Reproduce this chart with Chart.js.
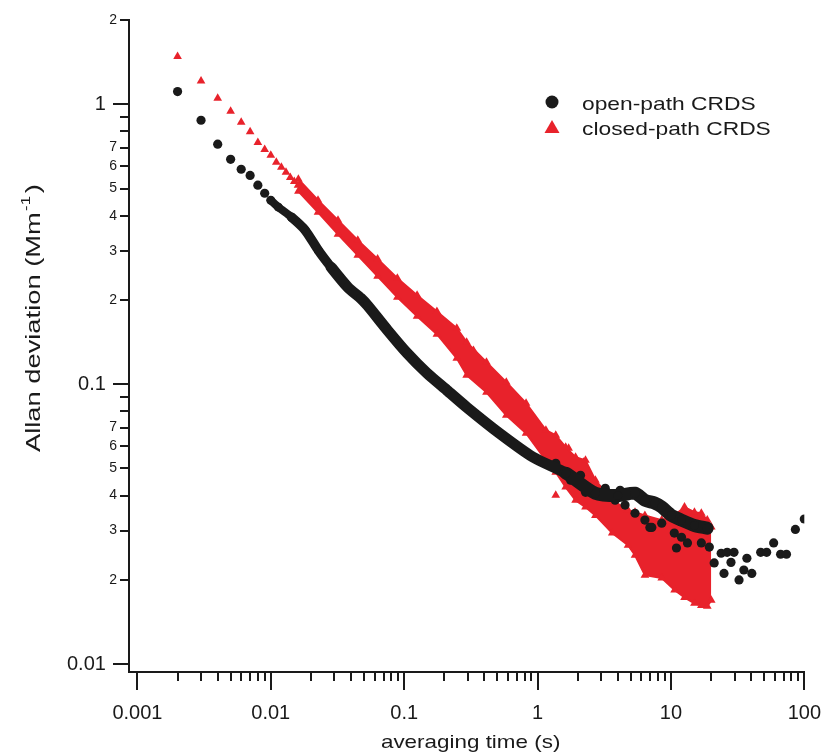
<!DOCTYPE html>
<html>
<head>
<meta charset="utf-8">
<script src="https://cdn.jsdelivr.net/npm/chart.js@4.4.0/dist/chart.umd.min.js"></script>
<style>
  html, body { margin: 0; padding: 0; background: #fff; }
  #chart { display: block; }
</style>
</head>
<body>
<canvas id="chart" width="832" height="755"></canvas>
<script>
// ---- DATA ----
// open-path CRDS, black circles
// first points, still separated
const openSparseTau = [0.002, 0.003, 0.004, 0.005, 0.006, 0.007, 0.008, 0.009];
const openSparseDev = [1.11, 0.877, 0.72, 0.636, 0.586, 0.557, 0.514, 0.481];
// dense part, points overlap into a band
const openBandTau = [0.010, 0.0114, 0.0143, 0.0181, 0.0227, 0.0283, 0.0378, 0.0472, 0.0532, 0.075, 0.1055, 0.1486,
    0.209, 0.294, 0.516, 0.925, 1.63, 2.71, 4.0, 5.38, 6.38, 7.57, 8.53, 10.1, 12.0, 15.0, 18.7];
const openBandDev = [0.454, 0.429, 0.395, 0.355, 0.301, 0.262, 0.222, 0.203, 0.191, 0.156, 0.129, 0.1094,
    0.0952, 0.0828, 0.0669, 0.0549, 0.0481, 0.0408, 0.0400, 0.0408, 0.0385, 0.0376, 0.0364, 0.034, 0.0327, 0.0313, 0.0306];
// noisy points past 1 s, and the long taus
const openScatterTau = [1.37, 1.77, 2.10, 2.29, 3.22, 3.82, 4.16, 4.53, 5.38, 6.38, 6.95, 7.19, 8.53, 10.6, 11.0, 12.0, 13.3, 16.9, 19.4,
    21.1, 23.8, 25.0, 26.4, 28.2, 29.7, 32.4, 35.2, 37.1, 40.4, 47.1, 52.2, 58.9, 66.4, 73.5, 85.7, 100];
const openScatterDev = [0.0522, 0.0454, 0.0473, 0.0411, 0.0425, 0.0385, 0.0418, 0.037, 0.0346, 0.0327, 0.0308, 0.0308, 0.0319, 0.0294, 0.026, 0.0284, 0.0271, 0.0271, 0.0262,
    0.023, 0.0249, 0.0211, 0.0251, 0.0231, 0.0251, 0.020, 0.0217, 0.0239, 0.0211, 0.0251, 0.0251, 0.0271, 0.0247, 0.0247, 0.0303, 0.033];

// closed-path CRDS, red triangles
const closedSparseTau = [0.002, 0.003, 0.004, 0.005, 0.006, 0.007, 0.008, 0.009, 0.010, 0.011, 0.012, 0.013, 0.014, 0.015, 0.016];
const closedSparseDev = [1.48, 1.21, 1.05, 0.944, 0.862, 0.797, 0.73, 0.69, 0.657, 0.621, 0.596, 0.572, 0.548, 0.530, 0.514];
// dense part: upper and lower edge of the red band
const closedBandTau = [0.0161, 0.0226, 0.0319, 0.0449, 0.0632, 0.0889, 0.125, 0.176, 0.248, 0.294, 0.414, 0.583, 0.820,
    1.155, 1.369, 1.625, 1.928, 2.288, 2.714, 3.63, 4.77, 5.38, 6.38, 8.53, 10.65, 12.64, 15.0, 16.9, 18.73, 20.06];
const closedUpperDev = [0.540, 0.454, 0.385, 0.327, 0.280, 0.239, 0.208, 0.182, 0.1585, 0.1413, 0.1199, 0.1016, 0.0855,
    0.0685, 0.0657, 0.0596, 0.0549, 0.0535, 0.0454, 0.0385, 0.0355, 0.0349, 0.034, 0.0327, 0.034, 0.0364, 0.0349, 0.0346, 0.0327, 0.0309];
const closedLowerDev = [0.489, 0.4115, 0.3433, 0.2889, 0.243, 0.2045, 0.175, 0.1509, 0.1238, 0.1077, 0.0936, 0.0775, 0.0668,
    0.0535, 0.0485, 0.0429, 0.0385, 0.0364, 0.034, 0.0294, 0.0266, 0.0245, 0.0208, 0.0203, 0.0184, 0.0173, 0.0165, 0.0162, 0.0161, 0.0169];
// single triangles sticking out of the band
const closedSpikeTau = [0.235, 0.331, 1.369, 1.71, 2.21];
const closedSpikeDev = [0.156, 0.132, 0.0401, 0.059, 0.0526];

// ---- AXES ----
const xMajorTicks = [0.001, 0.01, 0.1, 1, 10, 100];
const xMajorLabels = ['0.001', '0.01', '0.1', '1', '10', '100'];
const minorSteps = [2, 3, 4, 5, 6, 7, 8, 9];
const yTickValues = [0.01, 0.02, 0.03, 0.04, 0.05, 0.06, 0.07, 0.08, 0.09,
    0.1, 0.2, 0.3, 0.4, 0.5, 0.6, 0.7, 0.8, 0.9, 1, 2];
const yTickLabels = ['0.01', '2', '3', '4', '5', '6', '7', '', '',
    '0.1', '2', '3', '4', '5', '6', '7', '', '', '1', '2'];
const yMajorTicks = [0.01, 0.1, 1];

const FONT = "'Liberation Sans', Arial, Helvetica, sans-serif";
const INK = '#1a1a1a';
const RED = '#e8222b';

const pts = (xs, ys) => xs.map((x, i) => ({ x: x, y: ys[i] }));

// x ticks: every decade plus its 2..9 minor marks
const xTicks = [];
xMajorTicks.forEach((d, i) => {
    xTicks.push({ value: d, label: xMajorLabels[i], major: true });
    if (i < xMajorTicks.length - 1) {
        minorSteps.forEach(m => xTicks.push({ value: +(d * m).toPrecision(6), label: '', major: false }));
    }
});
const yTicks = yTickValues.map((v, i) => ({ value: v, label: yTickLabels[i], major: yMajorTicks.includes(v) }));

// tick marks (two lengths), axis titles and the legend inside the plot
const axisDecor = {
    id: 'axisDecor',
    afterDraw(chart) {
        const { ctx, chartArea: a, scales: { x, y } } = chart;
        ctx.save();
        ctx.strokeStyle = INK;
        ctx.lineWidth = 2;
        ctx.beginPath();
        xTicks.forEach(t => {
            const px = Math.round(x.getPixelForValue(t.value));
            ctx.moveTo(px, a.bottom);
            ctx.lineTo(px, a.bottom + (t.major ? 18 : 9));
        });
        yTicks.forEach(t => {
            const py = Math.round(y.getPixelForValue(t.value));
            ctx.moveTo(a.left, py);
            ctx.lineTo(a.left - (t.major ? 16 : 9), py);
        });
        ctx.stroke();

        ctx.fillStyle = INK;
        ctx.textBaseline = 'alphabetic';

        // x title
        ctx.save();
        ctx.translate((a.left + a.right) / 2 + 4, 748);
        ctx.scale(1.18, 1);
        ctx.font = '19px ' + FONT;
        ctx.textAlign = 'center';
        ctx.fillText('averaging time (s)', 0, 0);
        ctx.restore();

        // y title, with the -1 as superscript
        ctx.save();
        ctx.translate(40, 452);
        ctx.rotate(-Math.PI / 2);
        ctx.scale(1.3, 1);
        ctx.textAlign = 'left';
        ctx.font = '21px ' + FONT;
        const main = 'Allan deviation (Mm';
        ctx.fillText(main, 0, 0);
        let w = ctx.measureText(main).width + 1;
        ctx.font = '13px ' + FONT;
        ctx.fillText('-1', w, -10);
        w += ctx.measureText('-1').width + 2;
        ctx.font = '21px ' + FONT;
        ctx.fillText(')', w, 0);
        ctx.restore();

        // legend
        ctx.beginPath();
        ctx.arc(552, 102, 6.5, 0, Math.PI * 2);
        ctx.fill();
        ctx.fillStyle = RED;
        ctx.beginPath();
        ctx.moveTo(552, 120);
        ctx.lineTo(559.5, 133);
        ctx.lineTo(544.5, 133);
        ctx.closePath();
        ctx.fill();
        ctx.fillStyle = INK;
        ctx.font = '19px ' + FONT;
        ctx.textAlign = 'left';
        [['open-path CRDS', 110], ['closed-path CRDS', 135]].forEach(([txt, by]) => {
            ctx.save();
            ctx.translate(582, by);
            ctx.scale(1.2, 1);
            ctx.fillText(txt, 0, 0);
            ctx.restore();
        });
        ctx.restore();
    }
};

// the black band gets thicker where the scatter grows
const bandWidth = (c) => {
    const t = c.p0.parsed.x;
    if (t < 0.0143) return 8;
    if (t < 0.0283) return 9.5;
    return t > 1 ? 13 : 11;
};

const ctxChart = document.getElementById('chart').getContext('2d');
new Chart(ctxChart, {
    type: 'scatter',
    data: {
        datasets: [
            { // black band, drawn on top (order 0)
                data: pts(openBandTau, openBandDev),
                showLine: true,
                tension: 0.25,
                borderColor: INK,
                borderWidth: 11,
                segment: { borderWidth: bandWidth },
                borderJoinStyle: 'round',
                borderCapStyle: 'round',
                backgroundColor: INK,
                pointBorderWidth: 0,
                pointRadius: 4.5,
                order: 0
            },
            {
                data: pts(openSparseTau, openSparseDev),
                backgroundColor: INK,
                pointBorderWidth: 0,
                pointRadius: 4.6,
                order: 0
            },
            {
                data: pts(openScatterTau, openScatterDev),
                backgroundColor: INK,
                pointBorderWidth: 0,
                pointRadius: 4.6,
                order: 0
            },
            {
                data: pts(closedSparseTau, closedSparseDev),
                backgroundColor: RED,
                pointStyle: 'triangle',
                pointBorderWidth: 0,
                pointRadius: 5,
                order: 1
            },
            { // upper edge of the red band
                data: pts(closedBandTau, closedUpperDev),
                showLine: true,
                borderColor: RED,
                borderWidth: 2,
                backgroundColor: RED,
                pointStyle: 'triangle',
                pointBorderWidth: 0,
                pointRadius: 5,
                fill: false,
                order: 1
            },
            { // lower edge, filled up to the upper edge
                data: pts(closedBandTau, closedLowerDev),
                showLine: true,
                borderColor: RED,
                borderWidth: 2,
                backgroundColor: RED,
                pointStyle: 'triangle',
                pointBorderWidth: 0,
                pointRadius: 5,
                fill: '-1',
                order: 1
            },
            {
                data: pts(closedSpikeTau, closedSpikeDev),
                backgroundColor: RED,
                pointStyle: 'triangle',
                pointBorderWidth: 0,
                pointRadius: 5,
                order: 1
            }
        ]
    },
    options: {
        responsive: false,
        animation: false,
        layout: { padding: { left: 0, right: 21, top: 20, bottom: 0 } },
        elements: { point: { borderWidth: 0, hoverRadius: 0 } },
        plugins: {
            legend: { display: false },
            tooltip: { enabled: false }
        },
        scales: {
            x: {
                type: 'logarithmic',
                position: 'bottom',
                min: 0.000865,
                max: 100,
                afterBuildTicks: (scale) => { scale.ticks = xTicks.map(t => ({ value: t.value })); },
                afterFit: (scale) => { scale.height = 83; },
                grid: { display: false, drawTicks: true, tickLength: 18 },
                border: { display: true, color: INK, width: 2 },
                ticks: {
                    autoSkip: false,
                    maxRotation: 0,
                    minRotation: 0,
                    padding: 11,
                    color: INK,
                    font: { family: FONT, size: 20 },
                    callback: (value, index) => xTicks[index].label
                }
            },
            y: {
                type: 'logarithmic',
                position: 'left',
                min: 0.009376,
                max: 2,
                afterBuildTicks: (scale) => { scale.ticks = yTicks.map(t => ({ value: t.value })); },
                afterFit: (scale) => { scale.width = 129; },
                grid: { display: false, drawTicks: true, tickLength: 9 },
                border: { display: true, color: INK, width: 2 },
                ticks: {
                    autoSkip: false,
                    padding: 3,
                    color: INK,
                    font: (c) => ({ family: FONT, size: yTicks[c.index] && yTicks[c.index].major ? 20 : 14 }),
                    // major labels sit further left, past the long tick
                    callback: (value, index) => yTicks[index].major ? yTicks[index].label + '  ' : yTicks[index].label
                }
            }
        }
    },
    plugins: [axisDecor]
});
</script>
</body>
</html>
